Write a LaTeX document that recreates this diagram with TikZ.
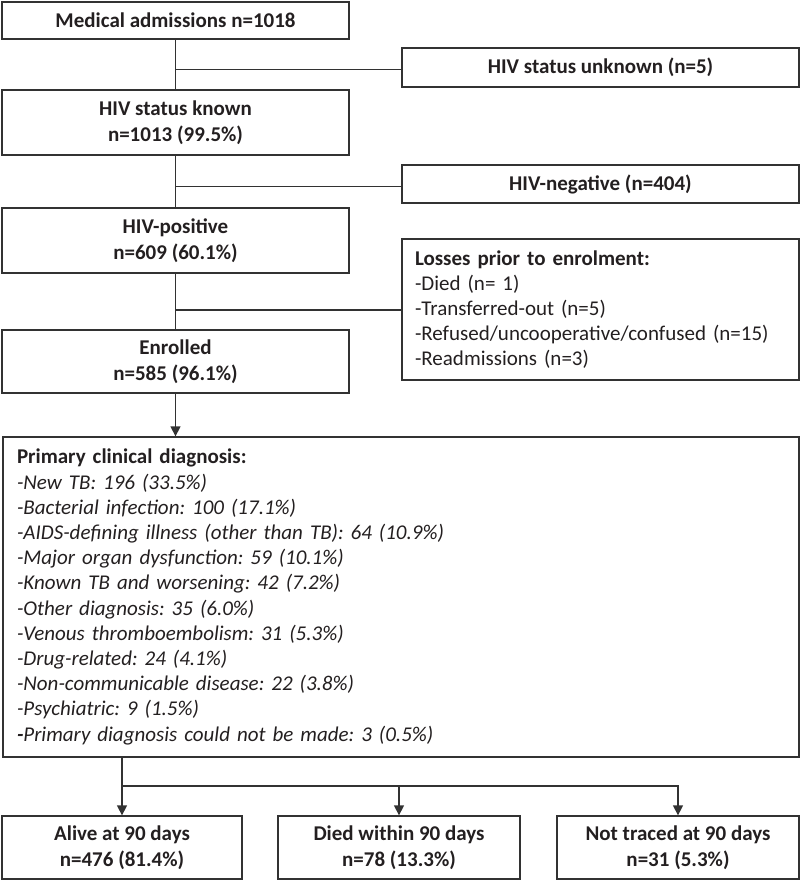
\documentclass[tikz,border=0pt]{standalone}
\usepackage{fontspec}
\setmainfont{Carlito}
\usetikzlibrary{arrows.meta,positioning,calc}
\definecolor{linegray}{RGB}{50,50,50}
\definecolor{textgray}{RGB}{35,31,32}
\frenchspacing

\begin{document}
\begin{tikzpicture}[x=1pt,y=-1pt,on grid,
    box/.style={draw=linegray, line width=1.3pt, text=textgray, inner sep=0pt,
        font=\bfseries\fontsize{21}{26}\selectfont, align=center,
        minimum width=347pt, minimum height=65pt},
    listbox/.style={box, font=\fontsize{21}{25.2}\selectfont, align=left},
    link/.style={draw=linegray, line width=1.3pt},
    arr/.style={link, -{Triangle[length=10pt,width=10pt]}}]
    \useasboundingbox (0,0) rectangle (800,881);

    % main column
    \node[box, minimum height=37pt] (adm) at (175.5,20.5) {Medical admissions n=1018};
    \node[box] (known) [below=102pt of adm] {HIV status known\\n=1013 (99.5\%)};
    \node[box] (pos) [below=118pt of known] {HIV-positive\\n=609 (60.1\%)};
    \node[box, minimum height=63pt] (enr) [below=121pt of pos] {Enrolled\\n=585 (96.1\%)};

    % exclusions
    \node[box, minimum width=397pt, minimum height=39pt] (unk) [below right=47pt and 425pt of adm] {HIV status unknown (n=5)};
    \node[box, minimum width=397pt, minimum height=38pt] (neg) [below right=61.5pt and 425pt of known] {HIV-negative (n=404)};
    \node[listbox, minimum width=397pt, minimum height=141pt, text width=371pt] (loss) [below right=69pt and 425pt of pos]
        {\textbf{Losses prior to enrolment:}\\
        -Died (n= 1)\\
        -Transferred-out (n=5)\\
        -Refused/uncooperative/confused (n=15)\\
        -Readmissions (n=3)};

    \node[listbox, minimum width=796pt, minimum height=320pt, text width=768pt] (diag) [below right=235.5pt and 225.5pt of enr]
        {\textbf{Primary clinical diagnosis:}\\
        \itshape -New TB: 196 (33.5\%)\\
        -Bacterial infection: 100 (17.1\%)\\
        -AIDS-defining illness (other than TB): 64 (10.9\%)\\
        -Major organ dysfunction: 59 (10.1\%)\\
        -Known TB and worsening: 42 (7.2\%)\\
        -Other diagnosis: 35 (6.0\%)\\
        -Venous thromboembolism: 31 (5.3\%)\\
        -Drug-related: 24 (4.1\%)\\
        -Non-communicable disease: 22 (3.8\%)\\
        -Psychiatric: 9 (1.5\%)\\
        \textbf{-}Primary diagnosis could not be made: 3 (0.5\%)};

    % outcomes
    \node[box, minimum width=240pt, minimum height=63pt] (alive) [below left=250.5pt and 279pt of diag] {Alive at 90 days\\n=476 (81.4\%)};
    \node[box, minimum width=242pt, minimum height=63pt] (died) [right=277pt of alive] {Died within 90 days\\n=78 (13.3\%)};
    \node[box, minimum width=242pt, minimum height=63pt] (lost) [right=279pt of died] {Not traced at 90 days\\n=31 (5.3\%)};

    \coordinate (b1) at ($(adm.south)!0.6!(known.north)$);
    \coordinate (b2) at ($(known.south)!0.6!(pos.north)$);
    \coordinate (b3) at ($(pos.south)!0.65!(enr.north)$);
    \coordinate (b4) at ($(diag.south -| alive.north)!0.49!(alive.north)$);

    \draw[link] (adm) -- (known);
    \draw[link] (known) -- (pos);
    \draw[link] (pos) -- (enr);
    \draw[link] (b1) -- (b1 -| unk.west);
    \draw[link] (b2) -- (b2 -| neg.west);
    \draw[link] (b3) -- (b3 -| loss.west);
    \draw[arr] (enr.south) -- (enr.south |- diag.north);
    \draw[arr] (diag.south -| alive.north) -- (alive.north);
    \draw[arr] (b4) -| (died.north);
    \draw[arr] (b4) -| (lost.north);
\end{tikzpicture}
\end{document}
